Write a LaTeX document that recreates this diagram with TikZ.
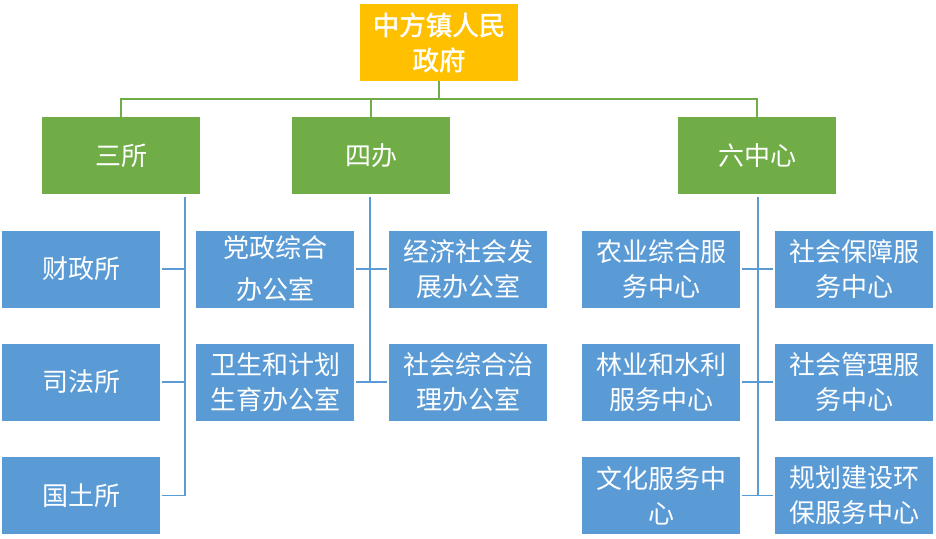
\documentclass[tikz,border=0pt]{standalone}
\usepackage{fontspec}
\setmainfont{Noto Sans CJK SC}
\newfontfamily\topfont[FakeBold=1.5]{Noto Sans CJK SC}
\definecolor{topc}{HTML}{FFC000}
\definecolor{grn}{HTML}{70AD47}
\definecolor{blu}{HTML}{5B9BD5}
\tikzset{
  box/.style={rectangle, inner sep=0pt, minimum width=158pt, minimum height=77pt,
    text=white, align=center, font=\fontsize{26}{35}\selectfont},
  topbox/.style={box, fill=topc, font=\topfont\fontsize{26.5}{35}\selectfont},
  midbox/.style={box, fill=grn},
  leafbox/.style={box, fill=blu},
  gline/.style={draw=grn, line width=1.2pt},
  bline/.style={draw=blu, line width=1.2pt},
}
\begin{document}
\begin{tikzpicture}[x=1pt,y=-1pt]
\useasboundingbox (0,0) rectangle (936,538);
% top
\node[topbox] (top) at (439,42.5) {中方镇人民\\政府};
% second level
\node[midbox] (sansuo) at (121,155.5) {三所};
\node[midbox] (siban) at (371,155.5) {四办};
\node[midbox] (liu) at (757,155.5) {六中心};
% 三所 children
\node[leafbox] (caizheng) at (81,269) {财政所};
\node[leafbox] (sifa) at (81,382) {司法所};
\node[leafbox] (guotu) at (81,495.5) {国土所};
% 四办 children
\node[leafbox] (dangzheng) at (275,269) {党政综合\\[7pt]办公室};
\node[leafbox] (jingji) at (468,269) {经济社会发\\展办公室};
\node[leafbox] (weisheng) at (275,382) {卫生和计划\\生育办公室};
\node[leafbox] (zhili) at (468,382) {社会综合治\\理办公室};
% 六中心 children
\node[leafbox] (nongye) at (661,269) {农业综合服\\务中心};
\node[leafbox] (baozhang) at (854,269) {社会保障服\\务中心};
\node[leafbox] (linye) at (661,382) {林业和水利\\服务中心};
\node[leafbox] (guanli) at (854,382) {社会管理服\\务中心};
\node[leafbox] (wenhua) at (661,495.5) {文化服务中\\心};
\node[leafbox] (guihua) at (854,495.5) {规划建设环\\保服务中心};
% top-level connectors
\coordinate (bus) at (439,99);
\draw[gline] (top.south) -- (bus);
\draw[gline] (bus) -| (sansuo.north);
\draw[gline] (bus) -| (siban.north);
\draw[gline] (bus) -| (liu.north);
% 三所 connectors
\coordinate (sa) at (185,197);
\draw[bline] (sa) |- ([xshift=2pt]caizheng.east);
\draw[bline] (sa) |- ([xshift=2pt]sifa.east);
\draw[bline] (sa) |- ([xshift=2pt]guotu.east);
% 四办 connectors
\coordinate (sb) at (370,197);
\draw[bline] (sb) |- ([xshift=2pt]dangzheng.east);
\draw[bline] (sb) |- ([xshift=-2pt]jingji.west);
\draw[bline] (sb) |- ([xshift=2pt]weisheng.east);
\draw[bline] (sb) |- ([xshift=-2pt]zhili.west);
% 六中心 connectors
\coordinate (sc) at (758,197);
\draw[bline] (sc) |- ([xshift=2pt]nongye.east);
\draw[bline] (sc) |- ([xshift=-2pt]baozhang.west);
\draw[bline] (sc) |- ([xshift=2pt]linye.east);
\draw[bline] (sc) |- ([xshift=-2pt]guanli.west);
\draw[bline] (sc) |- ([xshift=2pt]wenhua.east);
\draw[bline] (sc) |- ([xshift=-2pt]guihua.west);
\end{tikzpicture}
\end{document}
